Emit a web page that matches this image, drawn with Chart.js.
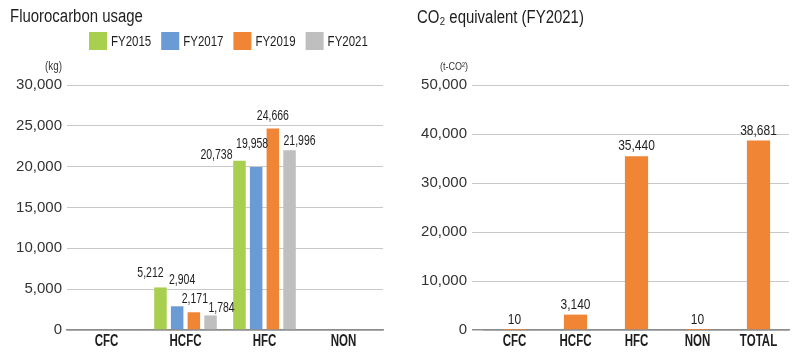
<!DOCTYPE html>
<html lang="en">
<head>
<meta charset="UTF-8">
<title>Fluorocarbon usage</title>
<script src="https://cdn.jsdelivr.net/npm/chart.js"></script>
<style>
    html, body { margin: 0; padding: 0; background: #ffffff; }
    .wrap { display: flex; width: 800px; height: 359px; }
    canvas { display: block; }
</style>
</head>
<body>
<div class="wrap">
    <canvas id="grafico_uso" width="400" height="359"></canvas>
    <canvas id="grafico_co2" width="400" height="359"></canvas>
</div>

<script>
    // dados
    const categoriasUso = ['CFC', 'HCFC', 'HFC', 'NON'];
    const anos = ['FY2015', 'FY2017', 'FY2019', 'FY2021'];
    const fy2015 = [0, 5212, 20738, 0];
    const fy2017 = [0, 2904, 19958, 0];
    const fy2019 = [0, 2171, 24666, 0];
    const fy2021 = [0, 1784, 21996, 0];
    const usoMax = 30000, usoPasso = 5000;

    const categoriasCO2 = ['CFC', 'HCFC', 'HFC', 'NON', 'TOTAL'];
    const co2Valores = [10, 3140, 35440, 10, 38681];
    const co2Max = 50000, co2Passo = 10000;

    // estilo
    const cores = ['#a8cf4e', '#6b9bd4', '#f08535', '#bfbfbf'];
    const laranja = '#f08535';
    const fonte = "'Liberation Sans', Arial, sans-serif";
    const corTexto = '#1e1e1e';
    const corTick = '#333333';
    const corGrade = '#c8c8c8';
    const corEixo = '#8c8c8c';

    // deslocamento dos rotulos [dx, dy] por serie (HCFC, HFC)
    const ajusteRotulos = [
        [[-10, -14], [-23, -5]],
        [[5, -26], [-4, -23]],
        [[1, -13], [0, -12]],
        [[11, -7], [10, -9]]
    ];

    function fmt(v) { return Number(v).toLocaleString('en-US'); }

    // sem fonte condensada instalada: escala horizontal
    function textoEstreito(ctx, txt, x, y, tam, alinhar, escala, peso) {
        ctx.save();
        ctx.font = (peso || 'normal') + ' ' + tam + 'px ' + fonte;
        ctx.textAlign = alinhar;
        ctx.translate(x, y);
        ctx.scale(escala, 1);
        ctx.fillText(txt, 0, 0);
        const w = ctx.measureText(txt).width * escala;
        ctx.restore();
        return w;
    }

    // titulo, legenda, unidade e nomes das categorias
    const cabecalho = {
        id: 'cabecalho',
        afterDraw(chart, args, opts) {
            const ctx = chart.ctx;
            ctx.save();
            ctx.fillStyle = corTexto;
            ctx.textBaseline = 'alphabetic';
            textoEstreito(ctx, opts.titulo, opts.tituloX, opts.tituloY, 18, 'left', 0.83);

            if (opts.legenda) {
                let x = 89;
                ctx.textBaseline = 'middle';
                chart.data.datasets.forEach(ds => {
                    ctx.fillStyle = ds.backgroundColor;
                    ctx.fillRect(x, 32, 18, 18);
                    ctx.fillStyle = corTexto;
                    const w = textoEstreito(ctx, ds.label, x + 22, 42, 14, 'left', 0.82);
                    x += 22 + w + 10;
                });
            }

            ctx.textBaseline = 'middle';
            ctx.fillStyle = '#333';
            textoEstreito(ctx, opts.unidade, opts.unidadeX, 67, opts.unidadeFonte, 'right', 0.82);

            // categorias do eixo x
            const sx = chart.scales.x;
            ctx.fillStyle = corTexto;
            chart.data.labels.forEach((lab, i) => {
                textoEstreito(ctx, lab, sx.getPixelForTick(i), 342, 16, 'center', 0.72, 'bold');
            });
            ctx.restore();
        }
    };

    // valores acima das barras
    const rotulos = {
        id: 'rotulos',
        afterDatasetsDraw(chart, args, opts) {
            const ctx = chart.ctx;
            ctx.save();
            ctx.fillStyle = corTexto;
            ctx.textBaseline = 'middle';
            chart.data.datasets.forEach((ds, i) => {
                const meta = chart.getDatasetMeta(i);
                meta.data.forEach((barra, j) => {
                    const v = ds.data[j];
                    if (!v) return;
                    let dx = 0, dy = -10;
                    if (opts.ajuste) {
                        const a = opts.ajuste[i][j - 1];
                        dx = a[0]; dy = a[1];
                    }
                    textoEstreito(ctx, fmt(v), barra.x + dx, barra.y + dy, opts.tamanho, 'center', opts.escala);
                });
            });
            ctx.restore();
        }
    };

    function eixoX() {
        return {
            grid: { display: false, drawTicks: false },
            border: { color: corEixo, width: 1.5 },
            ticks: { display: false },
            afterFit: s => { s.height = 29; }
        };
    }

    function eixoY(max, passo, largura, tick) {
        return {
            min: 0,
            max: max,
            ticks: {
                stepSize: passo,
                padding: 5,
                font: { family: fonte, size: 15 },
                color: corTick,
                callback: v => fmt(v)
            },
            grid: {
                color: c => c.tick && c.tick.value === 0 ? corEixo : corGrade,
                tickColor: c => c.tick && c.tick.value === 0 ? corEixo : corGrade,
                drawTicks: tick > 0,
                tickLength: tick,
                lineWidth: c => c.tick && c.tick.value === 0 ? 1.5 : 1
            },
            border: { display: false },
            afterFit: s => { s.width = largura; }
        };
    }

    Chart.register(cabecalho, rotulos);

    new Chart(document.getElementById('grafico_uso'), {
        type: 'bar',
        data: {
            labels: categoriasUso,
            datasets: [fy2015, fy2017, fy2019, fy2021].map((d, i) => ({
                label: anos[i],
                data: d,
                backgroundColor: cores[i],
                categoryPercentage: 0.845,
                barPercentage: 0.75
            }))
        },
        options: {
            responsive: false,
            animation: false,
            layout: { padding: { top: 85, right: 17, left: 0, bottom: 0 } },
            plugins: {
                legend: { display: false },
                tooltip: { enabled: false },
                cabecalho: { titulo: 'Fluorocarbon usage', tituloX: 10, tituloY: 22, legenda: true, unidade: '(kg)', unidadeX: 62, unidadeFonte: 12 },
                rotulos: { tamanho: 14, escala: 0.75, ajuste: ajusteRotulos }
            },
            scales: { x: eixoX(), y: eixoY(usoMax, usoPasso, 67, 0) }
        }
    });

    new Chart(document.getElementById('grafico_co2'), {
        type: 'bar',
        data: {
            labels: categoriasCO2,
            datasets: [{
                label: 'FY2021',
                data: co2Valores,
                backgroundColor: laranja,
                categoryPercentage: 1,
                barPercentage: 0.38
            }]
        },
        options: {
            responsive: false,
            animation: false,
            layout: { padding: { top: 85, right: 11, left: 0, bottom: 0 } },
            plugins: {
                legend: { display: false },
                tooltip: { enabled: false },
                cabecalho: { titulo: 'CO\u2082 equivalent (FY2021)', tituloX: 17, tituloY: 23, legenda: false, unidade: '(t-CO\u00b2)', unidadeX: 68, unidadeFonte: 11 },
                rotulos: { tamanho: 15, escala: 0.8 }
            },
            scales: { x: eixoX(), y: eixoY(co2Max, co2Passo, 84, 12) }
        }
    });
</script>
</body>
</html>
